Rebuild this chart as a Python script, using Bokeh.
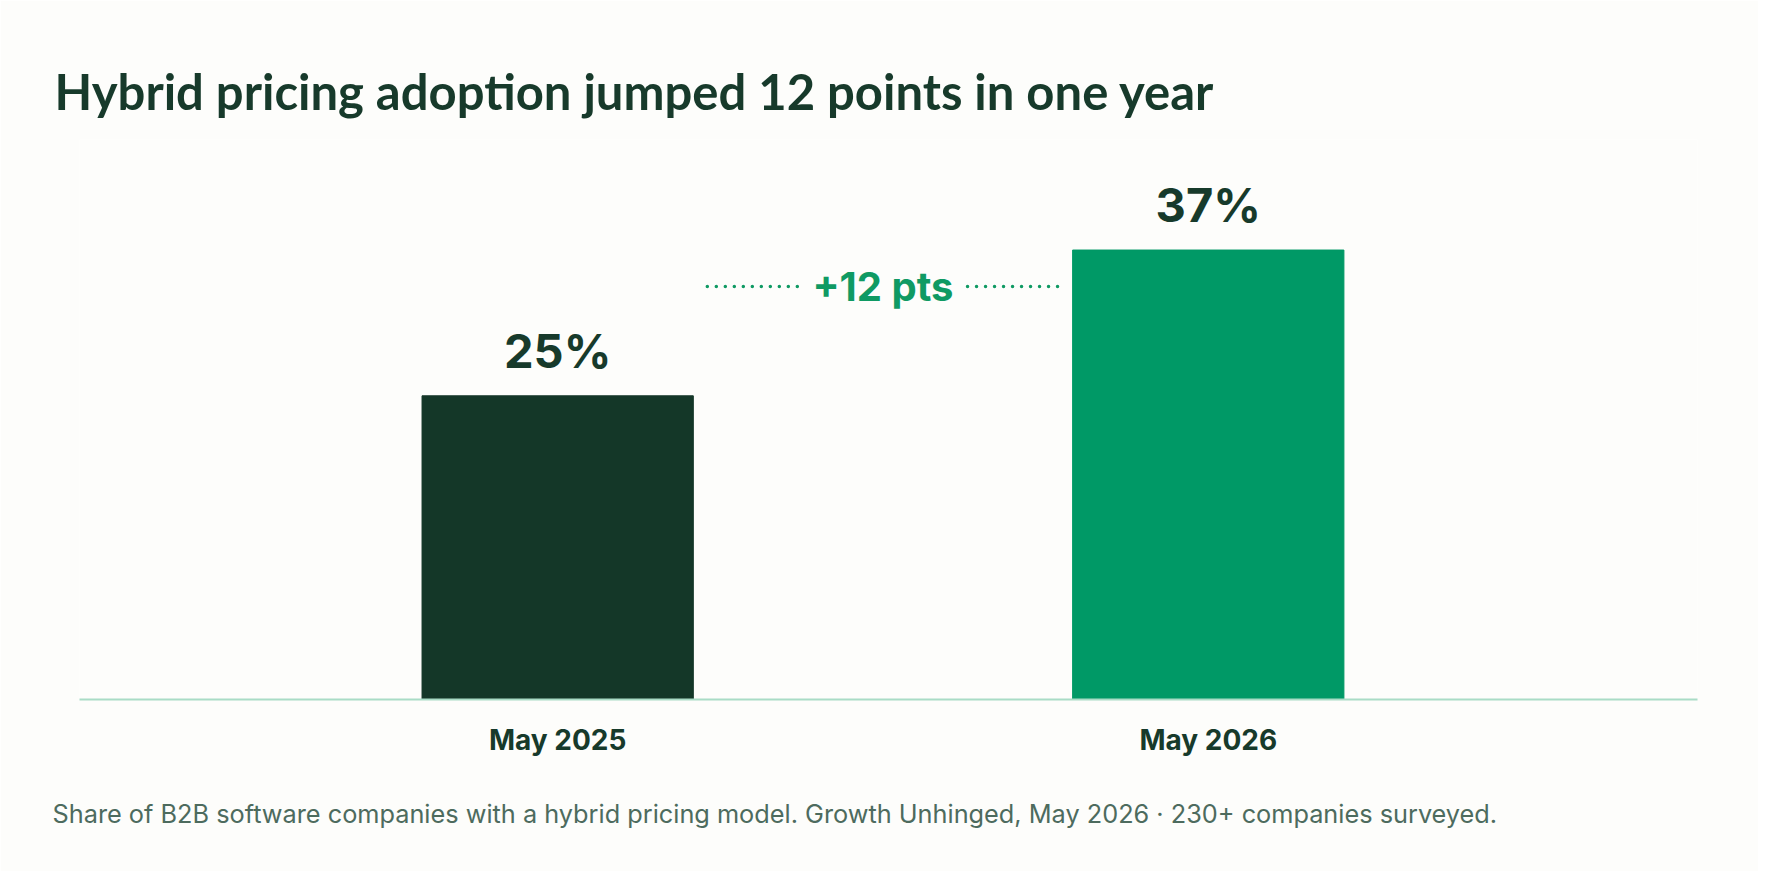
from bokeh.plotting import figure
from bokeh.models import ColumnDataSource, LabelSet, Title, FixedTicker, Range1d
from bokeh.core.properties import value
from bokeh.embed import file_html
from bokeh.resources import INLINE

# ---- data ----
categories = ["May 2025", "May 2026"]
shares = [25, 37]
bar_colors = ["#143728", "#009966"]
value_labels = ["25%", "37%"]
delta_label = "+12 pts"
title_text = "Hybrid pricing adoption jumped 12 points in one year"
footnote_text = ("Share of B2B software companies with a hybrid pricing model. "
                 "Growth Unhinged, May 2026 \u00b7 230+ companies surveyed.")

xs = list(range(len(categories)))
src = ColumnDataSource(dict(x=xs, y=shares, color=bar_colors, label=value_labels))

BG = "#fdfdfb"
W, H = 1758, 871
p = figure(width=W, height=H, output_backend="svg", toolbar_location=None,
           x_range=Range1d(-0.735, 1.752), y_range=Range1d(0, 46.1),
           min_border_left=79, min_border_right=61, min_border_top=139,
           min_border_bottom=172)
p.background_fill_color = BG
p.border_fill_color = BG
p.outline_line_color = None
p.grid.visible = False
p.yaxis.visible = False

p.vbar(x="x", top="y", width=0.417, color="color", source=src)

# value labels
p.add_layout(LabelSet(x="x", y="y", text="label", source=src, y_offset=28,
                      text_align="center", text_baseline="alphabetic",
                      text_font=value("Inter"), text_font_style="bold",
                      text_font_size="47px", text_color="#173a2b"))

# delta annotation
mid = (xs[0] + xs[1]) / 2
lvl = 34.0
p.line(x=[0.23, 0.38], y=[lvl, lvl], line_color="#0f9a63", line_width=3.5,
       line_dash="0 9", line_cap="round")
p.line(x=[0.63, 0.77], y=[lvl, lvl], line_color="#0f9a63", line_width=3.5,
       line_dash="0 9", line_cap="round")
p.text(x=[mid], y=[lvl], text=[delta_label], text_align="center",
       text_baseline="middle", text_font=value("Inter"), text_font_style="bold",
       text_font_size="40px", text_color="#0f9a63")

# x axis
ax = p.xaxis[0]
ax.ticker = FixedTicker(ticks=xs)
ax.major_label_overrides = {i: c for i, c in zip(xs, categories)}
ax.major_tick_line_color = None
ax.minor_tick_line_color = None
ax.axis_line_color = "#a9dcc6"
ax.axis_line_width = 2
ax.major_label_standoff = 17
ax.major_label_text_font = "Inter"
ax.major_label_text_font_style = "bold"
ax.major_label_text_font_size = "28px"
ax.major_label_text_color = "#173a2b"

# title & footnote
p.title.text = title_text
p.title.align = "left"
p.title.offset = -25
p.title.standoff = 39
p.title.text_font = "Lato"
p.title.text_font_style = "bold"
p.title.text_font_size = "49px"
p.title.text_color = "#173a2b"

p.add_layout(Title(text=footnote_text, align="left", offset=-27, standoff=73,
                   text_font="Inter", text_font_style="normal",
                   text_font_size="25.3px", text_color="#4d6b5e"), "below")

open("out.html", "w").write(file_html(p, INLINE))
